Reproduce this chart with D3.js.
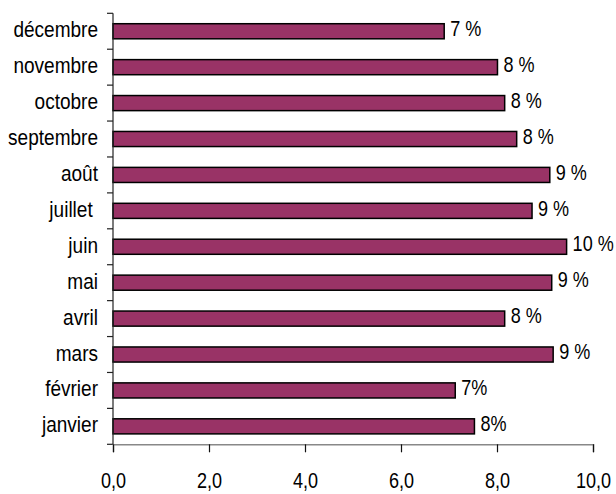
<!DOCTYPE html>
<html><head><meta charset="utf-8">
<script src="https://cdn.jsdelivr.net/npm/d3@7"></script>
<style>
html,body{margin:0;padding:0;background:#fff;}
text{font-family:"Liberation Sans",Arial,sans-serif;white-space:pre;}
</style></head>
<body>
<svg id="chart" width="616" height="494"></svg>
<script>
const months = ["janvier","février","mars","avril","mai","juin","juillet ","août","septembre","octobre","novembre","décembre"];
const values = [7.53, 7.13, 9.17, 8.16, 9.14, 9.45, 8.73, 9.10, 8.41, 8.16, 8.01, 6.90];
const valueLabels = ["8%","7%","9 %","8 %","9 %","10 %","9 %","9 %","8 %","8 %","8 %","7 %"];
const xTicks = [0, 2, 4, 6, 8, 10];

const svg = d3.select("#chart");
const mLeft = 113, mRight = 593, mTop = 13.3, mBottom = 444.3;
const FS = 21.5, SX = 0.84, SXC = 0.885;

const x = d3.scaleLinear().domain([0, 10]).range([mLeft, mRight]);
const y = d3.scaleBand().domain(months.slice().reverse()).range([mTop, mBottom])
  .paddingInner(0.58).paddingOuter(0.29);
const yb = d3.scaleBand().domain(months.slice().reverse()).range([mTop, mBottom]).padding(0);

const data = months.map((m, i) => ({m, v: values[i], l: valueLabels[i]}));

// bars
svg.append("g").selectAll("rect").data(data).join("rect")
  .attr("x", x(0))
  .attr("y", d => y(d.m))
  .attr("width", d => x(d.v) - x(0))
  .attr("height", y.bandwidth())
  .attr("fill", "#993366")
  .attr("stroke", "#000")
  .attr("stroke-width", 1.5);

// value labels
svg.append("g").selectAll("text").data(data).join("text")
  .attr("transform", d => `translate(${x(d.v) + 6},${y(d.m) + y.bandwidth() / 2}) scale(${SX},1)`)
  .attr("dy", "0.22em")
  .attr("font-size", FS)
  .attr("fill", "#000")
  .text(d => d.l);

// y axis
const ya = svg.append("g");
ya.append("line").attr("x1", mLeft).attr("x2", mLeft).attr("y1", mTop).attr("y2", mBottom)
  .attr("stroke", "#222").attr("stroke-width", 1.2);
const bounds = months.map(m => yb(m)).concat([mBottom]);
ya.selectAll("line.tk").data(bounds).join("line").attr("class", "tk")
  .attr("x1", mLeft - 6).attr("x2", mLeft).attr("y1", d => d).attr("y2", d => d)
  .attr("stroke", "#222").attr("stroke-width", 1.2);
ya.selectAll("text").data(months).join("text")
  .attr("transform", m => `translate(${mLeft - 15},${yb(m) + yb.bandwidth() / 2}) scale(${SXC},1)`)
  .attr("dy", "0.28em")
  .attr("text-anchor", "end")
  .attr("font-size", FS)
  .attr("fill", "#000")
  .text(m => m);

// x axis
const xa = svg.append("g").attr("transform", `translate(0,${mBottom})`)
  .call(d3.axisBottom(x).tickValues(xTicks).tickSize(8).tickPadding(0)
    .tickFormat(d => d3.format(".1f")(d).replace(".", ",")));
xa.select(".domain").attr("stroke", "#888").attr("stroke-width", 1.5);
xa.selectAll(".tick line").attr("stroke", "#111").attr("stroke-width", 1.2);
xa.selectAll(".tick text")
  .attr("y", 44).attr("dy", null)
  .attr("transform", `scale(${SX},1)`)
  .attr("font-size", FS).attr("fill", "#000")
  .attr("font-family", "'Liberation Sans',Arial,sans-serif");
</script>
</body></html>
